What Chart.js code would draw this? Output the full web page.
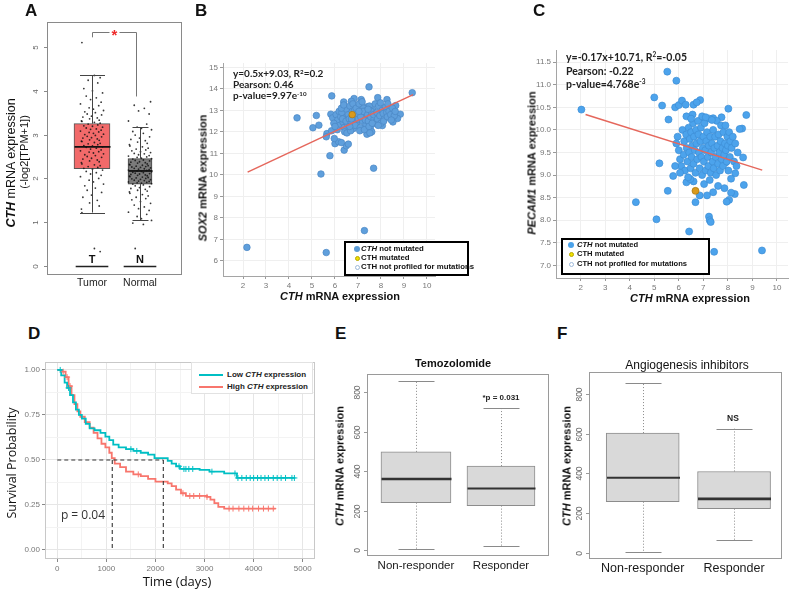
<!DOCTYPE html>
<html>
<head>
<meta charset="utf-8">
<script src="https://cdn.jsdelivr.net/npm/chart.js@4.4.0/dist/chart.umd.min.js"></script>
<style>
  body { margin: 0; background: #fff; }
  #fig { position: relative; width: 792px; height: 589px; overflow: hidden; background: #fff;
         font-family: "Liberation Sans", Arial, sans-serif; color: #111; }
  #fig canvas { position: absolute; }
  .t { position: absolute; white-space: nowrap; line-height: 1; }
  .c { transform: translate(-50%, -50%); }
  .l { transform: translate(0, -50%); }
  .v { transform: translate(-50%, -50%) rotate(-90deg); }
  .letter { font-weight: bold; font-size: 17px; }
  .note { font-family: Lato, "Liberation Sans", sans-serif; font-weight: bold; color: #222; }
  .note sup { font-size: 62%; vertical-align: 0.55em; line-height: 0; }
  .box { position: absolute; box-sizing: border-box; background: #fff; }
  .dot { position: absolute; border-radius: 50%; box-sizing: border-box; }
  .leg { font-weight: bold; color: #111; }
</style>
</head>
<body>
<div id="fig">
  <!-- panel letters -->
  <div class="t letter" style="left:25px;top:2px">A</div>
  <div class="t letter" style="left:195px;top:2px">B</div>
  <div class="t letter" style="left:533px;top:2px">C</div>
  <div class="t letter" style="left:28px;top:325px">D</div>
  <div class="t letter" style="left:335px;top:325px">E</div>
  <div class="t letter" style="left:557px;top:325px">F</div>
</div>
<div id="overlay" style="display:none">
  <!-- A -->
  <div class="t v" style="left:11px;top:163px;font-size:12.5px"><b><i>CTH</i></b> mRNA expression</div>
  <div class="t v" style="left:24px;top:152px;font-size:11px">(-log2[TPM+1])</div>
  <!-- B -->
  <div class="t v" style="left:203px;top:178px;font-size:11px;font-weight:bold"><i>SOX2</i> mRNA expression</div>
  <div class="t c" style="left:340px;top:296px;font-size:11px;font-weight:bold"><i>CTH</i> mRNA expression</div>
  <div class="t l note" style="left:233px;top:73px;font-size:10px">y=0.5x+9.03, R<sup>2</sup>=0.2</div>
  <div class="t l note" style="left:233px;top:84px;font-size:10px">Pearson: 0.46</div>
  <div class="t l note" style="left:233px;top:95px;font-size:10px">p-value=9.97e<sup>-10</sup></div>
  <div class="box" style="left:344px;top:241px;width:125px;height:35px;border:2px solid #000"></div>
  <div class="dot" style="left:354px;top:246px;width:6px;height:6px;background:#5b9bd5"></div>
  <div class="dot" style="left:354.5px;top:255.5px;width:5px;height:5px;background:#f0e000;border:1px solid #b8a800"></div>
  <div class="dot" style="left:354.5px;top:264.5px;width:5px;height:5px;border:1px solid #9db9da"></div>
  <div class="t l leg" style="left:361px;top:249px;font-size:7.8px"><i>CTH</i> not mutated</div>
  <div class="t l leg" style="left:361px;top:258px;font-size:7.8px">CTH mutated</div>
  <div class="t l leg" style="left:361px;top:267px;font-size:7.8px">CTH not profiled for mutations</div>
  <!-- C -->
  <div class="t v" style="left:532px;top:163px;font-size:11px;font-weight:bold"><i>PECAM1</i> mRNA expression</div>
  <div class="t c" style="left:690px;top:298px;font-size:11px;font-weight:bold"><i>CTH</i> mRNA expression</div>
  <div class="t l note" style="left:566px;top:57px;font-size:10.5px">y=-0.17x+10.71, R<sup>2</sup>=-0.05</div>
  <div class="t l note" style="left:566px;top:71px;font-size:10.5px">Pearson: -0.22</div>
  <div class="t l note" style="left:566px;top:84px;font-size:10.5px">p-value=4.768e<sup>-3</sup></div>
  <div class="box" style="left:561px;top:238px;width:149px;height:37px;border:2px solid #000"></div>
  <div class="dot" style="left:568px;top:242px;width:6px;height:6px;background:#4ba2ea"></div>
  <div class="dot" style="left:568.5px;top:251.5px;width:5px;height:5px;background:#f0e000;border:1px solid #b8a800"></div>
  <div class="dot" style="left:568.5px;top:261.5px;width:5px;height:5px;border:1px solid #9db9da"></div>
  <div class="t l leg" style="left:577px;top:245px;font-size:7.6px"><i>CTH</i> not mutated</div>
  <div class="t l leg" style="left:577px;top:254px;font-size:7.6px">CTH mutated</div>
  <div class="t l leg" style="left:577px;top:264px;font-size:7.6px">CTH not profiled for mutations</div>
  <!-- D -->
  <div class="t v" style="left:12px;top:463px;font-size:12.5px;font-family:'Open Sans',sans-serif;color:#111">Survival Probability</div>
  <div class="t c" style="left:177px;top:581px;font-size:13px;font-family:'Open Sans',sans-serif;color:#111">Time (days)</div>
  <div class="t c" style="left:83px;top:515px;font-size:12px;font-family:'Open Sans',sans-serif;color:#333">p = 0.04</div>
  <div class="box" style="left:191px;top:362px;width:122px;height:32px;border:1px solid #e2e2e2"></div>
  <div class="box" style="left:199px;top:374px;width:24px;height:2px;background:#00BFC4"></div>
  <div class="box" style="left:199px;top:386px;width:24px;height:2px;background:#F8766D"></div>
  <div class="t l leg" style="left:227px;top:375px;font-size:8px;color:#222">Low <i>CTH</i> expression</div>
  <div class="t l leg" style="left:227px;top:387px;font-size:8px;color:#222">High <i>CTH</i> expression</div>
  <!-- E -->
  <div class="t c" style="left:453px;top:363px;font-size:11px;font-weight:bold">Temozolomide</div>
  <div class="t v" style="left:340px;top:466px;font-size:11px;font-weight:bold"><i>CTH</i> mRNA expression</div>
  <div class="t c" style="left:501px;top:398px;font-size:8px;font-weight:bold;color:#222">*p = 0.031</div>
  <!-- F -->
  <div class="t c" style="left:687px;top:365px;font-size:12px">Angiogenesis inhibitors</div>
  <div class="t v" style="left:567px;top:466px;font-size:11px;font-weight:bold"><i>CTH</i> mRNA expression</div>
  <div class="t c" style="left:733px;top:418px;font-size:8.5px;font-weight:bold;color:#222">NS</div>
</div>
<script>
// ---------- data ----------
// A: GEPIA box plot, CTH expression log2(TPM+1)
const groupsA = ['Tumor', 'Normal'];
const groupMarksA = ['T', 'N'];
const exprTicksA = [0, 1, 2, 3, 4, 5];
// whisker low, q1, median, q3, whisker high
const tumorBox = [1.22, 2.22, 2.72, 3.25, 4.35];
const normalBox = [1.05, 1.87, 2.17, 2.45, 3.17];
const tumorExpr = [5.1, 4.35, 4.3, 4.24, 4.18, 4.05, 4.0, 3.95, 3.88, 3.84, 3.8, 3.74, 3.7, 3.66, 3.61, 3.58,
  3.55, 3.52, 3.5, 3.47, 3.45, 3.42, 3.4, 3.38, 3.36, 3.33, 3.31, 3.3, 3.28, 3.26, 3.24, 3.22, 3.2, 3.19, 3.17,
  3.15, 3.13, 3.12, 3.1, 3.08, 3.06, 3.05, 3.03, 3.01, 3.0, 2.98, 2.96, 2.95, 2.93, 2.92, 2.9, 2.88, 2.87, 2.85,
  2.84, 2.82, 2.8, 2.79, 2.77, 2.75, 2.74, 2.72, 2.71, 2.69, 2.67, 2.65, 2.63, 2.61, 2.6, 2.58, 2.56, 2.54, 2.52,
  2.5, 2.48, 2.46, 2.44, 2.42, 2.4, 2.38, 2.36, 2.33, 2.31, 2.29, 2.27, 2.25, 2.23, 2.21, 2.19, 2.16, 2.13, 2.1,
  2.07, 2.04, 2.0, 1.96, 1.92, 1.87, 1.83, 1.78, 1.73, 1.68, 1.62, 1.57, 1.5, 1.44, 1.37, 1.3, 1.22, 0.4, 0.33];
const normalExpr = [3.75, 3.67, 3.6, 3.54, 3.47, 3.31, 3.24, 3.17, 3.14, 3.11, 3.07, 3.03, 2.99, 2.95, 2.92, 2.89,
  2.86, 2.83, 2.8, 2.77, 2.74, 2.72, 2.69, 2.67, 2.65, 2.63, 2.61, 2.59, 2.57, 2.56, 2.54, 2.52, 2.51, 2.49, 2.48,
  2.46, 2.45, 2.44, 2.42, 2.41, 2.4, 2.38, 2.37, 2.36, 2.35, 2.33, 2.32, 2.31, 2.3, 2.29, 2.28, 2.27, 2.26, 2.25,
  2.24, 2.23, 2.22, 2.21, 2.2, 2.19, 2.18, 2.17, 2.16, 2.15, 2.14, 2.13, 2.12, 2.11, 2.1, 2.09, 2.08, 2.07, 2.06,
  2.05, 2.04, 2.03, 2.02, 2.01, 2.0, 1.99, 1.98, 1.97, 1.96, 1.95, 1.94, 1.93, 1.92, 1.91, 1.9, 1.89, 1.88, 1.87,
  1.85, 1.83, 1.81, 1.79, 1.77, 1.75, 1.73, 1.71, 1.69, 1.66, 1.63, 1.6, 1.57, 1.54, 1.51, 1.47, 1.43, 1.39, 1.35,
  1.31, 1.27, 1.23, 1.18, 1.13, 1.08, 1.04, 0.98, 0.95, 0.4];
// horizontal spread of the dots (category units)
const jitterA = [-0.21, 0.05, 0.17, -0.08, 0.12, -0.17, 0.01, 0.22, -0.12, 0.09, -0.03, 0.19, -0.24, 0.14,
  -0.06, 0.03, 0.24, -0.15, 0.07, -0.1, 0.2, -0.01, -0.19, 0.11, -0.05, 0.15, -0.22];

// B: CTH vs SOX2
const cthTicks = [2, 3, 4, 5, 6, 7, 8, 9, 10];
const sox2Ticks = [6, 7, 8, 9, 10, 11, 12, 13, 14, 15];
const sox2Points = [
  [2.17, 6.63], [5.62, 6.39], [7.28, 7.41], [5.39, 10.04], [7.68, 10.31], [5.78, 10.89], [4.35, 12.65],
  [5.19, 12.76], [5.04, 12.19], [5.3, 12.31], [5.86, 13.67], [7.48, 14.09], [9.36, 13.82],
  [6.4, 11.15], [6.49, 11.35], [6.58, 11.43], [6.0, 11.45], [6.16, 11.54], [5.97, 11.69], [5.65, 11.92],
  [5.62, 11.77], [6.28, 11.5],
  [8.84, 12.82], [8.72, 12.62], [8.52, 12.46], [8.64, 13.22], [8.26, 13.5], [7.86, 13.59], [8.06, 12.29],
  [7.39, 11.89], [7.54, 12.19], [7.68, 12.39],
  [6.83, 13.55], [6.71, 13.42], [6.38, 13.39], [7.14, 13.5], [6.96, 13.16], [7.39, 13.16],
  [5.82, 12.82], [5.9, 12.65], [6.05, 12.8], [6.12, 12.55], [5.95, 12.4], [6.2, 12.3], [5.85, 12.05],
  [6.1, 12.1], [6.18, 12.95], [6.0, 12.25],
  [6.25, 12.7], [6.3, 12.9], [6.35, 12.45], [6.4, 12.2], [6.45, 12.65], [6.5, 13.05], [6.55, 12.35],
  [6.28, 13.1], [6.42, 12.0], [6.58, 12.8], [6.33, 12.6], [6.48, 12.5], [6.52, 11.95], [6.38, 13.25],
  [6.62, 12.6], [6.65, 13.2], [6.7, 12.4], [6.75, 12.95], [6.8, 12.15], [6.85, 13.0], [6.9, 12.7],
  [6.95, 12.45], [6.68, 12.05], [6.78, 13.3], [6.88, 12.3], [6.98, 12.85], [6.72, 12.6], [6.92, 13.1],
  [6.64, 12.25],
  [7.02, 12.6], [7.05, 13.3], [7.1, 12.2], [7.15, 12.9], [7.2, 12.5], [7.25, 13.1], [7.3, 12.75],
  [7.35, 12.35], [7.08, 12.05], [7.18, 13.4], [7.28, 12.1], [7.38, 13.0], [7.12, 12.7], [7.22, 12.95],
  [7.32, 12.55], [7.04, 12.95],
  [7.42, 12.8], [7.45, 12.5], [7.5, 13.2], [7.55, 12.7], [7.6, 12.0], [7.65, 13.0], [7.7, 12.6],
  [7.75, 13.3], [7.48, 12.25], [7.58, 12.95], [7.68, 12.8], [7.78, 12.45], [7.44, 13.05], [7.62, 12.4],
  [7.52, 11.95],
  [7.82, 12.9], [7.85, 12.6], [7.9, 13.2], [7.95, 12.75], [8.0, 12.4], [8.05, 13.0], [8.1, 12.85],
  [8.15, 12.6], [8.2, 13.15], [8.25, 12.9], [7.88, 12.3], [7.98, 13.35], [8.12, 12.5], [8.28, 12.7],
  [8.3, 13.3], [8.35, 12.95], [8.42, 12.8], [8.5, 13.1], [8.58, 12.75], [8.45, 12.55], [8.62, 12.95]];
const sox2Mutated = [[6.75, 12.8]];
const sox2Fit = [[2.2, 10.13], [9.4, 13.73]];

// C: CTH vs PECAM1
const pecam1Ticks = [7, 7.5, 8, 8.5, 9, 9.5, 10, 10.5, 11, 11.5];
const pecam1Points = [
  [2.03, 10.45], [4.25, 8.4], [5.09, 8.02], [6.42, 7.75], [7.44, 7.3], [9.39, 7.33], [7.23, 8.08],
  [7.26, 8.0], [7.3, 7.96], [5.53, 11.29], [5.9, 11.09], [5.0, 10.72], [5.32, 10.54], [5.58, 10.23],
  [5.21, 9.26], [5.77, 8.98], [5.55, 8.65],
  [5.85, 10.5], [6.0, 10.55], [6.13, 10.65], [6.28, 10.56], [6.6, 10.56], [6.87, 10.66], [6.73, 10.61],
  [6.56, 10.34], [6.31, 10.3], [6.97, 10.27], [7.4, 10.26], [7.74, 10.28], [8.02, 10.47], [8.75, 10.33],
  [8.58, 10.03], [8.48, 10.02],
  [8.62, 9.39], [8.65, 8.78], [8.3, 9.04], [8.13, 8.92], [7.91, 9.28], [8.28, 8.58], [8.05, 8.45],
  [7.95, 8.41], [8.13, 8.61], [7.86, 8.71], [7.6, 8.76], [7.4, 8.62], [7.15, 8.55], [6.85, 8.55],
  [6.68, 8.4], [6.6, 8.86], [6.31, 8.84], [6.47, 8.91], [7.03, 8.8], [7.26, 8.89],
  [5.9, 9.7], [5.95, 9.85], [6.0, 9.55], [6.05, 9.35], [6.1, 9.2], [6.15, 10.0], [6.2, 9.45], [6.22, 9.75],
  [6.25, 9.1], [6.3, 9.9], [6.32, 9.6], [6.35, 9.3], [6.4, 10.05], [6.42, 9.5], [6.45, 9.8], [6.48, 9.15],
  [6.5, 9.95], [6.52, 9.4], [6.55, 9.65], [6.58, 10.15], [6.6, 9.25], [6.62, 9.85], [6.65, 9.55],
  [6.68, 9.05], [6.7, 10.0], [6.72, 9.7], [6.75, 9.35], [6.78, 10.2], [6.8, 9.9], [6.82, 9.5], [6.85, 9.15],
  [6.88, 9.75], [6.9, 10.05], [6.92, 9.4], [6.95, 9.0], [6.98, 9.6], [7.0, 9.85], [7.02, 9.3], [7.05, 10.15],
  [7.08, 9.55], [7.1, 9.1], [7.12, 9.75], [7.15, 9.95], [7.18, 9.4], [7.2, 9.2], [7.22, 9.65], [7.25, 10.25],
  [7.28, 9.85], [7.3, 9.05], [7.32, 9.5], [7.35, 9.7], [7.38, 9.3], [7.4, 10.0], [7.42, 9.15], [7.45, 9.6],
  [7.48, 9.85], [7.5, 9.4], [7.52, 9.0], [7.55, 10.2], [7.58, 9.65], [7.6, 9.25], [7.62, 9.9], [7.65, 9.5],
  [7.68, 9.1], [7.7, 9.75], [7.72, 10.1], [7.75, 9.35], [7.78, 9.6], [7.8, 9.2], [7.82, 9.95], [7.85, 9.45],
  [7.88, 9.7], [7.9, 10.1], [7.92, 9.55], [7.95, 9.3], [7.98, 9.85], [8.0, 9.65], [8.02, 9.1], [8.05, 9.95],
  [8.08, 9.4], [8.1, 9.75], [8.15, 9.6], [8.2, 9.85], [8.25, 9.3], [8.3, 9.7], [8.35, 9.2], [8.4, 9.5],
  [6.05, 9.05], [6.38, 8.95], [5.85, 9.2], [6.95, 10.3], [7.1, 10.28], [7.35, 10.22], [6.5, 10.25]];
const pecam1Mutated = [[6.68, 8.65]];
const pecam1Fit = [[2.2, 10.34], [9.4, 9.11]];

// D: Kaplan-Meier, survival drops to surv[i] at time[i]
const timeTicks = [0, 500, 1000, 1500, 2000, 2500, 3000, 3500, 4000, 4500, 5000];
const survTicks = [0, 0.125, 0.25, 0.375, 0.5, 0.625, 0.75, 0.875, 1];
const lowTime = [0, 80, 150, 200, 260, 320, 380, 440, 500, 580, 660, 760, 880, 980, 1060, 1140, 1250, 1400,
  1550, 1700, 1850, 1980, 2250, 2330, 2420, 2500, 2900, 3100, 3400, 3660, 4850];
const lowSurv = [1, 0.97, 0.93, 0.9, 0.86, 0.82, 0.78, 0.75, 0.73, 0.7, 0.675, 0.665, 0.65, 0.63, 0.61, 0.585,
  0.57, 0.56, 0.55, 0.54, 0.53, 0.51, 0.495, 0.48, 0.465, 0.45, 0.445, 0.435, 0.425, 0.4, 0.4];
const lowCensor = [60, 230, 1500, 1620, 2480, 2580, 2620, 2680, 2760, 3150, 3620, 3680, 3760, 3850, 3930, 4000,
  4080, 4150, 4230, 4300, 4400, 4480, 4560, 4650, 4780, 4830];
const highTime = [0, 100, 170, 230, 290, 350, 410, 470, 560, 660, 740, 820, 900, 980, 1060, 1110, 1170, 1280,
  1400, 1550, 1700, 1850, 2000, 2250, 2330, 2420, 2520, 2620, 3050, 3120, 3200, 3280, 3400, 4450];
const highSurv = [1, 0.99, 0.96, 0.91, 0.86, 0.81, 0.77, 0.74, 0.71, 0.68, 0.65, 0.62, 0.59, 0.57, 0.54, 0.51,
  0.48, 0.46, 0.435, 0.42, 0.41, 0.395, 0.38, 0.37, 0.355, 0.335, 0.315, 0.3, 0.295, 0.28, 0.26, 0.24, 0.23, 0.23];
const highCensor = [120, 200, 260, 1650, 2560, 2700, 2780, 2900, 3050, 3500, 3580, 3700, 3800, 3900, 3980, 4100,
  4200, 4300, 4400];
const medianHigh = 1120;
const medianLow = 2160;

// E / F: responders vs non-responders
const responseGroups = ['Non-responder', 'Responder'];
const cthTicksE = [0, 200, 400, 600, 800];
const temoLow = [5, 20];
const temoQ1 = [240, 225];
const temoMedian = [360, 312];
const temoQ3 = [497, 425];
const temoHigh = [855, 718];
const angioLow = [5, 65];
const angioQ1 = [258, 223];
const angioMedian = [378, 272];
const angioQ3 = [603, 410];
const angioHigh = [855, 625];

// ---------- helpers ----------
const SANS = '"Liberation Sans", Arial, sans-serif';
Chart.defaults.font.family = SANS;
Chart.defaults.color = '#777';

const fig = document.getElementById('fig');
const overlay = document.getElementById('overlay');
while (overlay.firstChild) fig.appendChild(overlay.firstChild);

// canvas box [left, top, w, h] and wanted plot area [l, t, r, b], page pixels
function makeCanvas(box) {
  const c = document.createElement('canvas');
  c.width = box[2];
  c.height = box[3];
  c.style.left = box[0] + 'px';
  c.style.top = box[1] + 'px';
  fig.insertBefore(c, fig.firstChild);
  return c;
}

// left and bottom margins are taken by the axes themselves (see axisW / axisH)
function baseOptions(box, area) {
  return {
    responsive: false,
    animation: false,
    devicePixelRatio: 1,
    layout: {
      autoPadding: false,
      padding: { left: 0, top: area[1] - box[1], right: box[0] + box[2] - area[2], bottom: 0 }
    },
    plugins: { legend: { display: false }, tooltip: { enabled: false } }
  };
}
const axisW = (box, area) => s => { s.width = area[0] - box[0]; };
const axisH = (box, area) => s => { s.height = box[1] + box[3] - area[3]; };
const fixTicks = list => s => { s.ticks = list.map(v => ({ value: v })); };
const toXY = arr => arr.map(p => ({ x: p[0], y: p[1] }));

function survAt(times, surv, t) {
  let s = surv[0];
  times.forEach((tt, i) => { if (tt <= t) s = surv[i]; });
  return s;
}

// frame around the plot area
const framePlugin = {
  id: 'frame',
  afterDraw(chart, args, o) {
    if (!o.color) return;
    const a = chart.chartArea, ctx = chart.ctx;
    ctx.save();
    ctx.strokeStyle = o.color;
    ctx.lineWidth = 1;
    ctx.strokeRect(a.left + 0.5, a.top + 0.5, a.right - a.left - 1, a.bottom - a.top - 1);
    ctx.restore();
  }
};

// R style y tick labels, written along the axis
const rotYTicks = {
  id: 'rotYTicks',
  afterDraw(chart, args, o) {
    if (!o.font) return;
    const y = chart.scales.y, ctx = chart.ctx, left = chart.chartArea.left;
    ctx.save();
    ctx.font = o.font;
    ctx.fillStyle = o.color;
    ctx.strokeStyle = o.tickColor;
    ctx.lineWidth = 1;
    y.ticks.forEach(t => {
      const py = Math.round(y.getPixelForValue(t.value)) + 0.5;
      ctx.beginPath();
      ctx.moveTo(left - o.tickLen, py);
      ctx.lineTo(left, py);
      ctx.stroke();
      ctx.save();
      ctx.translate(left - o.offset, py);
      ctx.rotate(-Math.PI / 2);
      ctx.textAlign = 'center';
      ctx.textBaseline = 'middle';
      ctx.fillText(String(t.value), 0, 0);
      ctx.restore();
    });
    ctx.restore();
  }
};

// medians, whiskers and caps on top of the floating bars
const boxPlot = {
  id: 'boxPlot',
  afterDatasetsDraw(chart, args, o) {
    if (!o.boxes) return;
    const ctx = chart.ctx, x = chart.scales.x, y = chart.scales.y;
    ctx.save();
    o.boxes.forEach(b => {
      const px = Math.round(x.getPixelForValue(b.x)) + 0.5;
      const [lo, q1, med, q3, hi] = b.stats;
      ctx.lineWidth = 1;
      ctx.strokeStyle = o.whiskerColor;
      ctx.setLineDash(o.whiskerDash || []);
      ctx.beginPath();
      ctx.moveTo(px, y.getPixelForValue(q3));
      ctx.lineTo(px, y.getPixelForValue(hi));
      ctx.moveTo(px, y.getPixelForValue(q1));
      ctx.lineTo(px, y.getPixelForValue(lo));
      ctx.stroke();
      ctx.setLineDash([]);
      ctx.strokeStyle = o.capColor;
      ctx.beginPath();
      [lo, hi].forEach(v => {
        const py = Math.round(y.getPixelForValue(v)) + 0.5;
        ctx.moveTo(px - b.cap / 2, py);
        ctx.lineTo(px + b.cap / 2, py);
      });
      ctx.stroke();
      ctx.strokeStyle = o.medianColor;
      ctx.lineWidth = b.medianWidth;
      const pm = y.getPixelForValue(med);
      ctx.beginPath();
      ctx.moveTo(px - b.width / 2, pm);
      ctx.lineTo(px + b.width / 2, pm);
      ctx.stroke();
    });
    ctx.restore();
  }
};

Chart.register(framePlugin, rotYTicks, boxPlot);

// ---------- A ----------
{
  const box = [0, 0, 200, 300], area = [47, 22, 182, 275];
  const opts = baseOptions(box, area);
  opts.scales = {
    x: { type: 'linear', offset: false, min: 0.0625, max: 2.875, afterFit: axisH(box, area), afterBuildTicks: fixTicks([1, 2]),
         ticks: { callback: v => groupsA[v - 1], color: '#222', font: { size: 10.5 }, padding: 2, autoSkip: false, maxRotation: 0 },
         grid: { display: false, drawTicks: false }, border: { display: false } },
    y: { type: 'linear', min: -0.205, max: 5.57, afterFit: axisW(box, area), afterBuildTicks: fixTicks(exprTicksA),
         ticks: { display: false }, grid: { display: false }, border: { display: false } }
  };
  opts.plugins.frame = { color: '#8a8a8a' };
  opts.plugins.rotYTicks = { font: '8px ' + SANS, color: '#666', tickColor: '#8a8a8a', tickLen: 3, offset: 11 };
  opts.plugins.boxPlot = {
    whiskerColor: '#444', capColor: '#444', medianColor: '#111',
    boxes: [
      { x: 1, stats: tumorBox, cap: 25, width: 36, medianWidth: 1.8 },
      { x: 2, stats: normalBox, cap: 16, width: 24, medianWidth: 1.8 }
    ]
  };
  // GEPIA group marks and significance bracket
  const gepiaMarks = {
    id: 'gepiaMarks',
    afterDraw(chart) {
      const ctx = chart.ctx, x = chart.scales.x, y = chart.scales.y;
      const y0 = Math.round(y.getPixelForValue(0)) + 0.5;
      ctx.save();
      ctx.strokeStyle = '#222';
      ctx.lineWidth = 1.5;
      ctx.fillStyle = '#111';
      ctx.font = 'bold 11px ' + SANS;
      ctx.textAlign = 'center';
      ctx.textBaseline = 'bottom';
      groupMarksA.forEach((m, i) => {
        ctx.beginPath();
        ctx.moveTo(x.getPixelForValue(i + 1 - 0.34), y0);
        ctx.lineTo(x.getPixelForValue(i + 1 + 0.34), y0);
        ctx.stroke();
        ctx.fillText(m, x.getPixelForValue(i + 1), y0 - 1);
      });
      const top = Math.round(y.getPixelForValue(5.35)) + 0.5;
      const x1 = Math.round(x.getPixelForValue(1)) + 0.5, x2 = Math.round(x.getPixelForValue(1.92)) + 0.5;
      ctx.strokeStyle = '#777';
      ctx.lineWidth = 1;
      ctx.beginPath();
      ctx.moveTo(x1, y.getPixelForValue(5.22));
      ctx.lineTo(x1, top);
      ctx.lineTo(x2, top);
      ctx.lineTo(x2, y.getPixelForValue(3.87));
      ctx.stroke();
      ctx.fillStyle = '#fff';
      ctx.fillRect((x1 + x2) / 2 - 5, top - 4, 10, 8);
      ctx.fillStyle = '#ee2b2b';
      ctx.font = 'bold 15px ' + SANS;
      ctx.textBaseline = 'middle';
      ctx.fillText('*', (x1 + x2) / 2, top + 3);
      ctx.restore();
    }
  };
  new Chart(makeCanvas(box), {
    type: 'scatter',
    data: {
      datasets: [
        { type: 'scatter', order: 1, data: tumorExpr.map((v, i) => ({ x: 1 + jitterA[i % jitterA.length], y: v })),
          pointRadius: 0.9, backgroundColor: 'rgba(20,20,20,0.85)', borderWidth: 0 },
        { type: 'scatter', order: 1, data: normalExpr.map((v, i) => ({ x: 2 + jitterA[(i + 7) % jitterA.length], y: v })),
          pointRadius: 0.9, backgroundColor: 'rgba(20,20,20,0.85)', borderWidth: 0 },
        { type: 'bar', order: 2, grouped: false, barThickness: 36, borderSkipped: false,
          data: [{ x: 1, y: [tumorBox[1], tumorBox[3]] }], backgroundColor: '#f26a6a', borderColor: '#555', borderWidth: 1 },
        { type: 'bar', order: 2, grouped: false, barThickness: 24, borderSkipped: false,
          data: [{ x: 2, y: [normalBox[1], normalBox[3]] }], backgroundColor: '#7b7b7b', borderColor: '#444', borderWidth: 1 }
      ]
    },
    options: opts,
    plugins: [gepiaMarks]
  });
}

// ---------- B and C ----------
function scatterPanel(box, area, xr, yr, yTicks, pts, mutated, fit, color, border, radius) {
  const opts = baseOptions(box, area);
  const axis = (min, max, ticks, fitFn) => ({
    type: 'linear', min, max, afterFit: fitFn, afterBuildTicks: fixTicks(ticks),
    ticks: { color: '#777', font: { size: 8 }, padding: 2, autoSkip: false, maxRotation: 0 },
    grid: { color: '#efefef', tickColor: '#999', tickLength: 3 },
    border: { color: '#a5a5a5' }
  });
  opts.scales = { x: axis(xr[0], xr[1], cthTicks, axisH(box, area)), y: axis(yr[0], yr[1], yTicks, axisW(box, area)) };
  new Chart(makeCanvas(box), {
    type: 'scatter',
    data: {
      datasets: [
        { type: 'line', order: 0, data: toXY(fit), borderColor: '#e5675c', borderWidth: 1.5, pointRadius: 0 },
        { type: 'scatter', order: 1, data: toXY(mutated), pointRadius: radius, backgroundColor: '#d99a1c', borderColor: '#a8740e', borderWidth: 0.7 },
        { type: 'scatter', order: 2, data: toXY(pts), pointRadius: radius, backgroundColor: color, borderColor: border, borderWidth: 0.7 }
      ]
    },
    options: opts
  });
}
scatterPanel([200, 40, 270, 270], [223, 63, 435, 276], [1.13, 10.35], [5.3, 15.2], sox2Ticks,
  sox2Points, sox2Mutated, sox2Fit, '#5f9fdc', '#4a86c4', 3.3);
scatterPanel([530, 30, 262, 270], [556, 50, 788, 278], [0.995, 10.45], [6.72, 11.77], pecam1Ticks,
  pecam1Points, pecam1Mutated, pecam1Fit, '#4ca3ec', '#3d8ed6', 3.5);

// ---------- D ----------
{
  const box = [0, 345, 330, 244], area = [45, 362, 315, 559];
  const opts = baseOptions(box, area);
  const major = (v, step) => Math.abs(v / step - Math.round(v / step)) < 1e-6;
  opts.scales = {
    x: { type: 'linear', min: -250, max: 5250, afterFit: axisH(box, area), afterBuildTicks: fixTicks(timeTicks),
         ticks: { callback: v => major(v, 1000) ? String(v) : '', color: '#777', font: { size: 8 }, padding: 2, autoSkip: false, maxRotation: 0 },
         grid: { color: c => major(c.tick.value, 1000) ? '#e6e6e6' : '#f3f3f3',
                 tickColor: c => major(c.tick.value, 1000) ? '#888' : 'rgba(0,0,0,0)', tickLength: 3 },
         border: { display: false } },
    y: { type: 'linear', min: -0.05, max: 1.044, afterFit: axisW(box, area), afterBuildTicks: fixTicks(survTicks),
         ticks: { callback: v => major(v, 0.25) ? v.toFixed(2) : '', color: '#777', font: { size: 8 }, padding: 2, autoSkip: false },
         grid: { color: c => major(c.tick.value, 0.25) ? '#e6e6e6' : '#f3f3f3',
                 tickColor: c => major(c.tick.value, 0.25) ? '#888' : 'rgba(0,0,0,0)', tickLength: 3 },
         border: { display: false } }
  };
  opts.plugins.frame = { color: '#c8c8c8' };
  const curve = (times, surv) => times.map((t, i) => ({ x: t, y: surv[i] }));
  const marks = (cens, times, surv) => cens.map(t => ({ x: t, y: survAt(times, surv, t) }));
  const dashed = { type: 'line', order: 0, borderColor: '#333', borderWidth: 1.1, borderDash: [4, 3], pointRadius: 0 };
  new Chart(makeCanvas(box), {
    type: 'scatter',
    data: {
      datasets: [
        Object.assign({ data: [{ x: 0, y: 0.5 }, { x: medianLow, y: 0.5 }] }, dashed),
        Object.assign({ data: [{ x: medianHigh, y: 0.5 }, { x: medianHigh, y: 0 }] }, dashed),
        Object.assign({ data: [{ x: medianLow, y: 0.5 }, { x: medianLow, y: 0 }] }, dashed),
        { type: 'scatter', order: 1, data: marks(lowCensor, lowTime, lowSurv), pointStyle: 'cross', pointRadius: 3, borderColor: '#00BFC4', borderWidth: 1 },
        { type: 'scatter', order: 1, data: marks(highCensor, highTime, highSurv), pointStyle: 'cross', pointRadius: 3, borderColor: '#F8766D', borderWidth: 1 },
        { type: 'line', order: 2, data: curve(lowTime, lowSurv), stepped: true, borderColor: '#00BFC4', borderWidth: 1.8, pointRadius: 0 },
        { type: 'line', order: 3, data: curve(highTime, highSurv), stepped: true, borderColor: '#F8766D', borderWidth: 1.8, pointRadius: 0 }
      ]
    },
    options: opts
  });
}

// ---------- E and F ----------
function boxPanel(box, area, xr, yr, low, q1, med, q3, high, widths, medianWidths, labelSize, labelPad) {
  const opts = baseOptions(box, area);
  opts.scales = {
    x: { type: 'linear', offset: false, min: xr[0], max: xr[1], afterFit: axisH(box, area), afterBuildTicks: fixTicks([1, 2]),
         ticks: { callback: v => responseGroups[v - 1], color: '#1a1a1a', font: { size: labelSize }, padding: labelPad, autoSkip: false, maxRotation: 0 },
         grid: { display: false, drawTicks: false }, border: { display: false } },
    y: { type: 'linear', min: yr[0], max: yr[1], afterFit: axisW(box, area), afterBuildTicks: fixTicks(cthTicksE),
         ticks: { display: false }, grid: { display: false }, border: { display: false } }
  };
  opts.plugins.frame = { color: '#9a9a9a' };
  opts.plugins.rotYTicks = { font: '8.5px ' + SANS, color: '#6a6a6a', tickColor: '#9a9a9a', tickLen: 3, offset: 9 };
  opts.plugins.boxPlot = {
    whiskerColor: '#8a8a8a', whiskerDash: [1, 2], capColor: '#8a8a8a', medianColor: '#333',
    boxes: responseGroups.map((g, i) => ({ x: i + 1, stats: [low[i], q1[i], med[i], q3[i], high[i]], cap: 36, width: widths[i], medianWidth: medianWidths[i] }))
  };
  new Chart(makeCanvas(box), {
    type: 'scatter',
    data: {
      datasets: responseGroups.map((g, i) => ({
        type: 'bar', grouped: false, barThickness: widths[i], borderSkipped: false,
        data: [{ x: i + 1, y: [q1[i], q3[i]] }], backgroundColor: '#d9d9d9', borderColor: '#8c8c8c', borderWidth: 1
      }))
    },
    options: opts
  });
}
boxPanel([330, 345, 235, 244], [367, 374, 549, 556], [0.424, 2.565], [-30, 891],
  temoLow, temoQ1, temoMedian, temoQ3, temoHigh, [70, 68], [2.6, 2], 11.5, 3);
boxPanel([565, 345, 227, 244], [589, 372, 782, 559], [0.412, 2.525], [-30, 910],
  angioLow, angioQ1, angioMedian, angioQ3, angioHigh, [73, 73], [2, 2.6], 12.5, 2);
</script>
</body>
</html>
